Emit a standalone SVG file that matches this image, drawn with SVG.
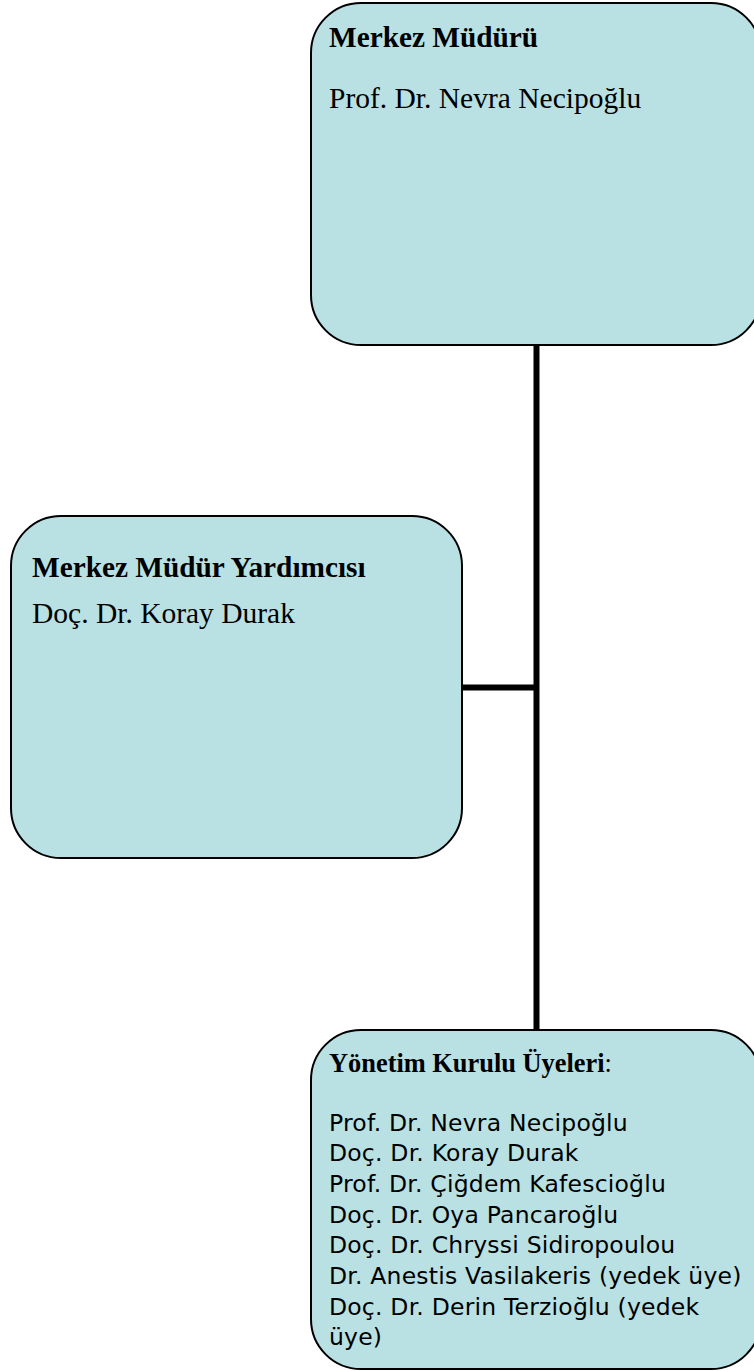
<svg xmlns="http://www.w3.org/2000/svg" width="754" height="1371" viewBox="0 0 754 1371">
<style>
.box{fill:#B9E0E3;stroke:#000;stroke-width:2}
.conn{stroke:#000;stroke-width:6;fill:none}
.h{font-family:"Liberation Serif","Times New Roman",serif;font-weight:bold;font-size:29.3px;fill:#000}
.h3{font-size:26.4px}
.s{font-family:"Liberation Serif","Times New Roman",serif;font-size:29.5px;fill:#000}
.l{font-family:"DejaVu Sans",Verdana,sans-serif;font-size:23.5px;letter-spacing:0.2px;fill:#000}
</style>
<rect width="754" height="1371" fill="#fff"/>
<g id="connectors">
<line class="conn" x1="536.5" y1="345" x2="536.5" y2="1030"/>
<line class="conn" x1="462" y1="687.5" x2="536.5" y2="687.5"/>
</g>
<g id="node-mudur">
<rect class="box" x="311" y="3" width="450" height="342" rx="50" ry="50"/>
<text class="h" x="329" y="47">Merkez Müdürü</text>
<text class="s" x="329" y="108">Prof. Dr. Nevra Necipoğlu</text>
</g>
<g id="node-yardimci">
<rect class="box" x="11" y="516" width="451" height="342" rx="50" ry="50"/>
<text class="h" x="32" y="577">Merkez Müdür Yardımcısı</text>
<text class="s" x="32" y="623">Doç. Dr. Koray Durak</text>
</g>
<g id="node-kurul">
<rect class="box" x="311" y="1030" width="450" height="339" rx="50" ry="50"/>
<text class="h h3" x="329" y="1072">Yönetim Kurulu Üyeleri<tspan font-weight="normal">:</tspan></text>
<text class="l" x="329" y="1131">Prof. Dr. Nevra Necipoğlu</text>
<text class="l" x="329" y="1161">Doç. Dr. Koray Durak</text>
<text class="l" x="329" y="1192">Prof. Dr. Çiğdem Kafescioğlu</text>
<text class="l" x="329" y="1223">Doç. Dr. Oya Pancaroğlu</text>
<text class="l" x="329" y="1253">Doç. Dr. Chryssi Sidiropoulou</text>
<text class="l" x="329" y="1284">Dr. Anestis Vasilakeris (yedek üye)</text>
<text class="l" x="329" y="1315">Doç. Dr. Derin Terzioğlu (yedek</text>
<text class="l" x="329" y="1345">üye)</text>
</g>
</svg>
